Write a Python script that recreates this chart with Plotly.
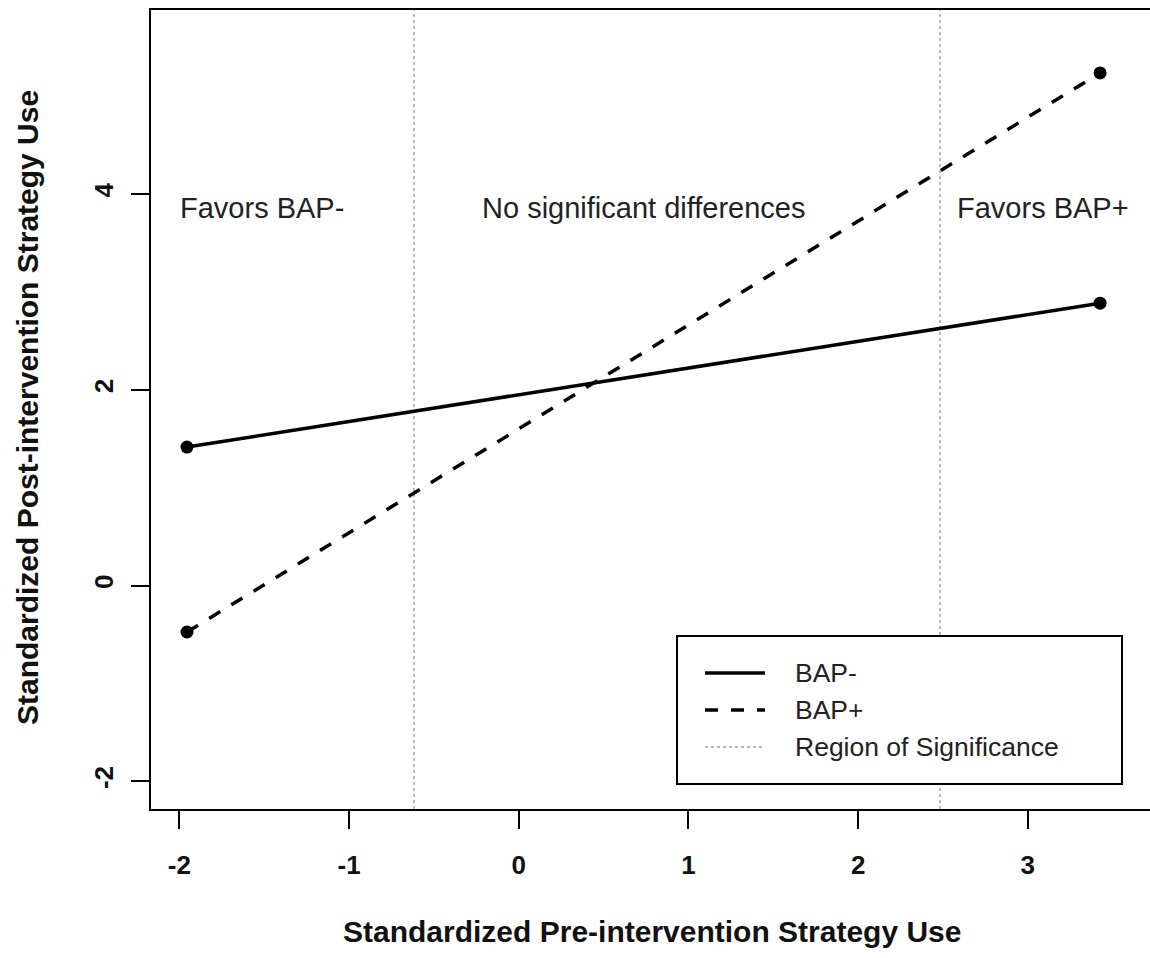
import plotly.graph_objects as go

# ---- data ----
bap_minus_x = [-1.955, 3.426]
bap_minus_y = [1.417, 2.887]
bap_plus_x = [-1.955, 3.426]
bap_plus_y = [-0.473, 5.24]
region_bounds = [-0.617, 2.483]
x_ticks = [-2, -1, 0, 1, 2, 3]
y_ticks = [-2, 0, 2, 4]
region_labels = ["Favors BAP-", "No significant differences", "Favors BAP+"]
region_label_x = [-2.01, 0.733, 2.57]
region_label_y = [3.86, 3.86, 3.86]
legend_labels = ["BAP-", "BAP+", "Region of Significance"]

FONT = "Liberation Sans, Arial, sans-serif"
W, H = 1150, 958
L, R, T, B = 151, 0, 10, 149
Y_RANGE = [-2.282, 5.883]
X_RANGE = [-2.167, 3.72]

fig = go.Figure()

# region of significance lines
for xb in region_bounds:
    fig.add_trace(go.Scatter(x=[xb, xb], y=Y_RANGE, mode="lines",
                             line=dict(color="#a0a0a0", width=1.5, dash="3px,3px"),
                             showlegend=False, hoverinfo="skip"))

fig.add_trace(go.Scatter(x=bap_minus_x, y=bap_minus_y, mode="lines+markers",
                         name="BAP-", line=dict(color="black", width=3.5),
                         marker=dict(color="black", size=13), showlegend=False))
fig.add_trace(go.Scatter(x=bap_plus_x, y=bap_plus_y, mode="lines+markers",
                         name="BAP+", line=dict(color="black", width=3.5, dash="13px,13px"),
                         marker=dict(color="black", size=13), showlegend=False))


def px(xp):
    return (xp - L) / (W - L)


def py(yp):
    return (H - B - yp) / (H - B - T)


annotations = []
for txt, xx, yy in zip(region_labels, region_label_x, region_label_y):
    anchor = "center" if "No" in txt else "left"
    annotations.append(dict(x=xx, y=yy, xref="x", yref="y", text=txt, showarrow=False,
                            xanchor=anchor, yanchor="middle",
                            font=dict(family=FONT, size=29, color="#222")))

# axis titles
annotations.append(dict(x=px(652), y=py(931), xref="paper", yref="paper",
                        text="Standardized Pre-intervention Strategy Use", showarrow=False,
                        xanchor="center", yanchor="middle",
                        font=dict(family=FONT, size=30, color="#111", weight="bold")))
annotations.append(dict(x=px(27), y=py(408), xref="paper", yref="paper",
                        text="Standardized Post-intervention Strategy Use", showarrow=False,
                        textangle=-90, xanchor="center", yanchor="middle",
                        font=dict(family=FONT, size=30, color="#111", weight="bold")))

shapes = [dict(type="rect", xref="paper", yref="paper", x0=px(677), x1=px(1122), y0=py(784), y1=py(636),
               line=dict(color="black", width=2), fillcolor="white", layer="above")]
leg_styles = [dict(color="black", width=3.5), dict(color="black", width=3.5, dash="13px,13px"),
              dict(color="#a0a0a0", width=1.5, dash="3px,3px")]
leg_y = [673, 710, 747]
for lab, st, yy in zip(legend_labels, leg_styles, leg_y):
    shapes.append(dict(type="line", xref="paper", yref="paper", x0=px(705), x1=px(765), y0=py(yy), y1=py(yy),
                       line=st, layer="above"))
    annotations.append(dict(x=px(793), y=py(yy), xref="paper", yref="paper", text=lab, showarrow=False,
                            xanchor="left", yanchor="middle",
                            font=dict(family=FONT, size=26.5, color="#222")))

fig.update_layout(
    width=W, height=H,
    margin=dict(l=L, r=R, t=T, b=B),
    paper_bgcolor="white", plot_bgcolor="white",
    showlegend=False,
    annotations=annotations, shapes=shapes,
    xaxis=dict(range=X_RANGE, tickvals=x_ticks, ticktext=[str(v) for v in x_ticks],
               showgrid=False, zeroline=False, showline=True, linecolor="black", linewidth=2,
               mirror=True, ticks="outside", ticklen=18, tickwidth=2, tickcolor="black",
               ticklabelstandoff=14,
               tickfont=dict(family=FONT, size=26, color="#111", weight="bold")),
    yaxis=dict(range=Y_RANGE, tickvals=y_ticks, ticktext=[str(v) for v in y_ticks],
               showgrid=False, zeroline=False, showline=True, linecolor="black", linewidth=2,
               mirror=False, ticks="outside", ticklen=18, tickwidth=2, tickcolor="black",
               tickangle=-90, ticklabelstandoff=8,
               tickfont=dict(family=FONT, size=26, color="#111", weight="bold")),
)

fig.write_html("out.html", config={"displayModeBar": False},
               post_script="document.body.style.margin='0';document.body.style.overflow='hidden';")
